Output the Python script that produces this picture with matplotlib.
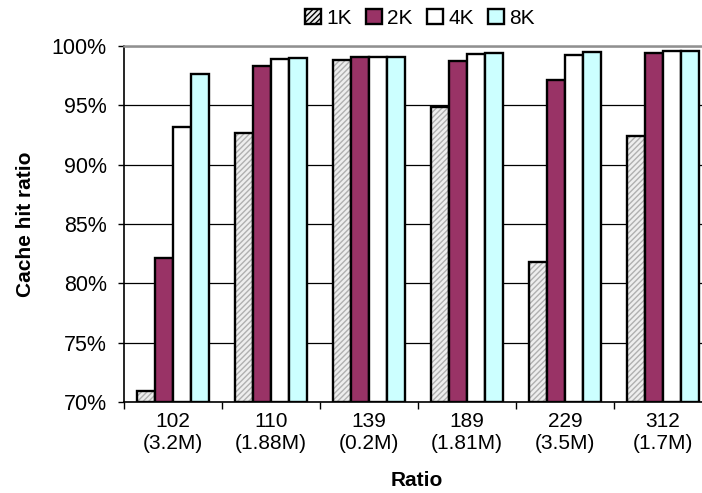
import matplotlib
matplotlib.use("Agg")
import matplotlib.pyplot as plt
import numpy as np
from matplotlib.patches import Patch

plt.rcParams['font.family'] = ['Liberation Sans', 'DejaVu Sans']

categories = ["102\n(3.2M)", "110\n(1.88M)", "139\n(0.2M)", "189\n(1.81M)", "229\n(3.5M)", "312\n(1.7M)"]
series_names = ["1K", "2K", "4K", "8K"]
v1k = [70.9, 92.7, 98.8, 94.9, 81.8, 92.4]
v2k = [82.1, 98.3, 99.1, 98.7, 97.1, 99.4]
v4k = [93.15, 98.9, 99.1, 99.3, 99.2, 99.6]
v8k = [97.6, 99.0, 99.1, 99.4, 99.5, 99.6]
yticks = [70, 75, 80, 85, 90, 95, 100]

fig = plt.figure(figsize=(7.02, 4.93), dpi=100)
ax = fig.add_axes([124/702, 1-402/493, 588/702, (402-46)/493])

x = np.arange(len(categories))
w = 18/98
offsets = [-1.5*w, -0.5*w, 0.5*w, 1.5*w]
base = 70
lw = 1.7
# 1K hatched
ax.bar(x+offsets[0], np.array(v1k)-base, w, bottom=base, color='#eeeeee',
       hatch='//////', edgecolor='#b0b0b0', linewidth=0, zorder=3)
ax.bar(x+offsets[0], np.array(v1k)-base, w, bottom=base, fill=False,
       edgecolor='black', linewidth=lw, zorder=4)
ax.bar(x+offsets[1], np.array(v2k)-base, w, bottom=base, color='#993366',
       edgecolor='black', linewidth=lw, zorder=4)
ax.bar(x+offsets[2], np.array(v4k)-base, w, bottom=base, color='white',
       edgecolor='black', linewidth=lw, zorder=4)
ax.bar(x+offsets[3], np.array(v8k)-base, w, bottom=base, color='#ccffff',
       edgecolor='black', linewidth=lw, zorder=4)

ax.set_xlim(-0.5, len(categories)-0.5)
ax.set_ylim(70, 100)
ax.set_yticks(yticks)
ax.set_yticklabels([f"{t}%" for t in yticks], fontsize=15.5)
ax.set_xticks(x)
ax.set_xticklabels(categories, fontsize=15, linespacing=1.25)
ax.tick_params(axis='x', length=0, pad=7)
ax.set_xticks(np.arange(len(categories)+1)-0.5, minor=True)
ax.tick_params(axis='x', which='minor', length=5, width=1, direction='out')
ax.tick_params(axis='y', length=4.5, width=1, direction='out', pad=8)
ax.grid(axis='y', color='black', linewidth=0.9, zorder=0)
ax.set_axisbelow(True)
for s in ['left', 'bottom']:
    ax.spines[s].set_color('black')
    ax.spines[s].set_linewidth(1.2)
ax.spines['top'].set_color('#909090')
ax.spines['top'].set_linewidth(1.8)
ax.spines['right'].set_visible(False)

ax.set_ylabel("Cache hit ratio", fontsize=15, fontweight='bold')
ax.yaxis.label.set_verticalalignment('center')
ax.yaxis.set_label_coords((26-124)/588, 0.5)
ax.set_xlabel("Ratio", fontsize=15, fontweight='bold')
ax.xaxis.label.set_verticalalignment('center')
ax.xaxis.set_label_coords((417-124)/588, -(480-402)/356)

handles = [
    Patch(facecolor='#eeeeee', edgecolor='black', hatch='//////', linewidth=1.7),
    Patch(facecolor='#993366', edgecolor='black', linewidth=1.7),
    Patch(facecolor='white', edgecolor='black', linewidth=1.7),
    Patch(facecolor='#ccffff', edgecolor='black', linewidth=1.7),
]
fig.legend(handles, series_names, loc='center', bbox_to_anchor=(420/702, 1-18/493),
           ncol=4, frameon=False, fontsize=15, handlelength=0.75, handleheight=0.75,
           handletextpad=0.25, columnspacing=0.7, borderaxespad=0, borderpad=0)

fig.savefig("out.png", dpi=100)
